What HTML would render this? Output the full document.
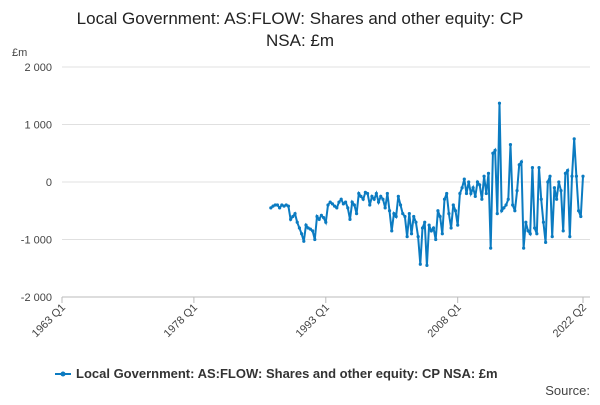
<!DOCTYPE html>
<html><head><meta charset="utf-8"><style>
body{margin:0;background:#fff;font-family:"Liberation Sans",sans-serif;}
</style></head><body>
<svg width="600" height="400" xmlns="http://www.w3.org/2000/svg" font-family="Liberation Sans, sans-serif">
<text x="300" y="24" text-anchor="middle" font-size="17" fill="#222">Local Government: AS:FLOW: Shares and other equity: CP</text>
<text x="300" y="46" text-anchor="middle" font-size="17" fill="#222">NSA: £m</text>
<text x="12" y="56" font-size="11" fill="#444">£m</text>
<g id="grid"></g><g id="xax"></g>
<polyline id="line" fill="none" stroke="#0b7bc1" stroke-width="2"/>
<g id="pts"></g>
<line x1="55" y1="374" x2="71" y2="374" stroke="#0b7bc1" stroke-width="2"/>
<circle cx="63" cy="374" r="2.5" fill="#0b7bc1"/>
<text x="76" y="378" font-size="13" font-weight="bold" fill="#333">Local Government: AS:FLOW: Shares and other equity: CP NSA: £m</text>
<text x="590" y="395" text-anchor="end" font-size="13" fill="#444">Source:</text>
</svg>
<script>
const yTicks=[2000,1000,0,-1000,-2000];
const yTickLabels=["2 000","1 000","0","-1 000","-2 000"];
const xTickLabels=["1963 Q1","1978 Q1","1993 Q1","2008 Q1","2022 Q2"];
const xTickIdx=[0,60,120,180,237];
const values=[-450,-420,-400,-400,-450,-400,-420,-400,-420,-650,-600,-550,-700,-800,-900,-1030,-750,-800,-820,-850,-1000,-600,-650,-580,-620,-700,-400,-350,-380,-420,-450,-350,-300,
-380,-350,-450,-650,-350,-400,-550,-200,-250,-300,-180,-200,-400,-250,-300,-200,
-350,-250,-300,-450,-200,-500,-850,-550,-600,-250,-400,-550,-600,-950,-550,-900,
-600,-700,-950,-1430,-800,-700,-1450,-750,-850,-800,-1000,-500,-600,-900,-300,-200,
-550,-800,-400,-500,-750,-200,-100,50,-200,0,-200,-100,-250,0,-50,-300,
100,-200,150,-1150,500,550,-550,1370,-500,-450,-400,-300,650,-400,-500,-150,
300,350,-1150,-700,-850,-900,250,-800,-900,250,-300,-700,-1050,0,100,-950,
-100,-300,0,-150,-850,150,200,-950,100,750,100,-500,-600,100];
const x0=62,x1=583,nQ=237;
const X=i=>x0+(x1-x0)*i/nQ;
const Y=v=>182-v*0.0575;
const ns="http://www.w3.org/2000/svg";
const grid=document.getElementById('grid');
yTicks.forEach((t,k)=>{
 const l=document.createElementNS(ns,'line');
 l.setAttribute('x1',62);l.setAttribute('x2',590);l.setAttribute('y1',Y(t));l.setAttribute('y2',Y(t));
 l.setAttribute('stroke',t===-2000?'#bbb':'#e0e0e0');
 
 
 grid.appendChild(l);
 const tx=document.createElementNS(ns,'text');
 tx.setAttribute('x',52);tx.setAttribute('y',Y(t)+4);tx.setAttribute('text-anchor','end');
 tx.setAttribute('font-size','11');tx.setAttribute('fill','#444');tx.textContent=yTickLabels[k];
 
 
 grid.appendChild(tx);
});
const xax=document.getElementById('xax');
xTickIdx.forEach((q,k)=>{
 const x=X(q);
 const l=document.createElementNS(ns,'line');
 l.setAttribute('x1',x);l.setAttribute('x2',x);l.setAttribute('y1',297);l.setAttribute('y2',303);l.setAttribute('stroke','#bbb');
 
 
 xax.appendChild(l);
 const tx=document.createElementNS(ns,'text');
 tx.setAttribute('transform',`translate(${x+4},${308}) rotate(-45)`);
 tx.setAttribute('text-anchor','end');tx.setAttribute('font-size','11');tx.setAttribute('fill','#444');
 tx.textContent=xTickLabels[k];
 
 
 xax.appendChild(tx);
});
const start=nQ-(values.length-1);
const pts=values.map((v,i)=>X(start+i).toFixed(1)+','+Y(v).toFixed(1));
document.getElementById('line').setAttribute('points',pts.join(' '));
const pg=document.getElementById('pts');
values.forEach((v,i)=>{
 const c=document.createElementNS(ns,'circle');
 c.setAttribute('cx',X(start+i));c.setAttribute('cy',Y(v));c.setAttribute('r',1.6);c.setAttribute('fill','#0b7bc1');
 
 
 pg.appendChild(c);
});
</script>
</body></html>
